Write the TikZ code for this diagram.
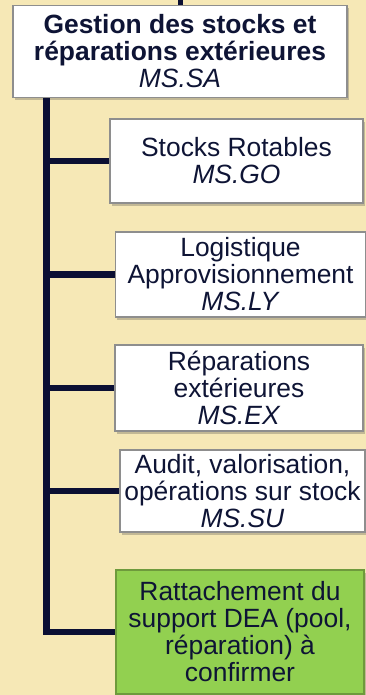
\documentclass[tikz,border=0pt]{standalone}
\usepackage{fontspec}
\setmainfont{Liberation Sans}
\usetikzlibrary{shadows}
\definecolor{paper}{HTML}{F6E8B6}
\definecolor{ink}{HTML}{0E1435}
\definecolor{rule}{HTML}{0B0F33}
\definecolor{frame}{HTML}{8E8E8E}
\definecolor{leaf}{HTML}{92D050}
\definecolor{leafframe}{HTML}{6E9A3C}
\begin{document}
\begin{tikzpicture}[x=1pt,y=-1pt,
  unit/.style={rectangle, draw=frame, line width=1.2pt, fill=white,
    inner sep=0pt, align=center, text=ink,
    font=\fontsize{26.4}{27}\selectfont,
    drop shadow={shadow xshift=1.5pt, shadow yshift=-3pt, opacity=0.3, fill=black!70}},
  pending/.style={unit, fill=leaf, draw=leafframe},
  link/.style={draw=rule, line width=6.5pt, line join=miter}]
  \fill[paper] (0,0) rectangle (366,695);
  \useasboundingbox (0,0) rectangle (366,695);

  \coordinate (tx) at (46.5,0);
  \coordinate (edge) at (180,0);

  \node[unit, minimum width=334pt, minimum height=92pt] (head) at (180,51.5)
    {\textbf{Gestion des stocks et}\\ \textbf{réparations extérieures}\\ \textit{MS.SA}};
  \node[unit, minimum width=253pt, minimum height=84pt] (go) at (236.5,161)
    {Stocks Rotables\\ \textit{MS.GO}};
  \node[unit, minimum width=250pt, minimum height=85pt] (ly) at (240.5,274.5)
    {Logistique\\ Approvisionnement\\ \textit{MS.LY}};
  \node[unit, minimum width=248pt, minimum height=86pt] (ex) at (239,388)
    {Réparations\\ extérieures\\ \textit{MS.EX}};
  \node[unit, minimum width=245pt, minimum height=82pt] (su) at (242.5,491)
    {Audit, valorisation,\\ opérations sur stock\\ \textit{MS.SU}};
  \node[pending, minimum width=248pt, minimum height=124pt] (dea) at (240,632)
    {Rattachement du\\ support DEA (pool,\\ réparation) à\\ confirmer};

  % connectors
  \draw[link, line width=5pt] (head.north) -- (edge);
  \draw[link] (head.south -| tx) |- (dea.west);
  \foreach \b in {go,ly,ex,su}
    \draw[link] (tx |- \b.west) -- (\b.west);
\end{tikzpicture}
\end{document}
